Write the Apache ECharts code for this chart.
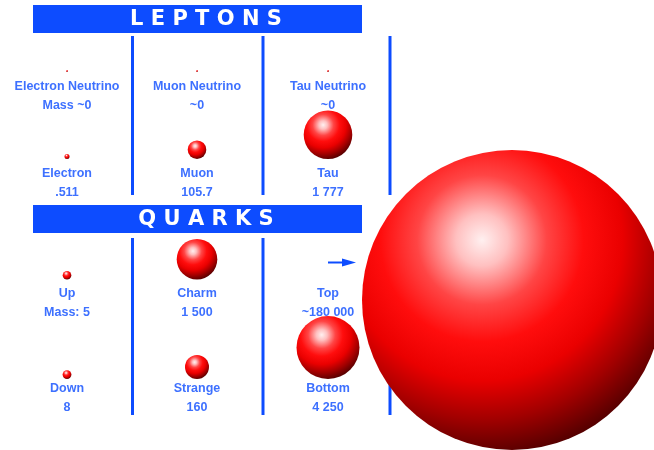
<!DOCTYPE html>
<html>
<head>
<meta charset="utf-8">
<script src="https://cdn.jsdelivr.net/npm/echarts@6/dist/echarts.min.js"></script>
<style>
  html, body { margin: 0; padding: 0; background: #fff; }
  #chart { width: 654px; height: 450px; }
</style>
</head>
<body>
<div id="chart"></div>
<script>
// particles, read row by row (3 per row): leptons then quarks
var particleNames = ['Electron Neutrino', 'Muon Neutrino', 'Tau Neutrino',
                     'Electron', 'Muon', 'Tau',
                     'Up', 'Charm', 'Top',
                     'Down', 'Strange', 'Bottom'];
var massLabels = ['Mass ~0', '~0', '~0',
                  '.511', '105.7', '1 777',
                  'Mass: 5', '1 500', '~180 000',
                  '8', '160', '4 250'];
var massMeV = [0, 0, 0,
               0.511, 105.7, 1777,
               5, 1500, 180000,
               8, 160, 4250];
var familyTitles = ['LEPTONS', 'QUARKS'];

// layout (pixels)
var COL_X = [67, 197, 328];
var ROW_SPHERE_BOTTOM = [72, 159, 279.5, 379];
var ROW_NAME_Y = [87, 173.5, 294, 389];
var LINE_GAP = 18.7;
var TOP_SPHERE_X = 512, TOP_SPHERE_BOTTOM = 450;
var BLUE = '#0d4cff';

// sphere radius scale, calibrated on the drawing (log-interpolated)
var radiusScale = [[0.511, 2.5], [5, 4.3], [8, 4.4], [105.7, 9.3], [160, 12],
                   [1500, 20.3], [1777, 24.3], [4250, 31.5], [180000, 150]];
function radiusOf(m) {
  if (m <= 0) return 0.9;
  for (var i = 1; i < radiusScale.length; i++) {
    var a = radiusScale[i - 1], b = radiusScale[i];
    if (m <= b[0]) {
      var t = Math.log(m / a[0]) / Math.log(b[0] / a[0]);
      return a[1] + t * (b[1] - a[1]);
    }
  }
  return radiusScale[radiusScale.length - 1][1];
}

var sphereData = [], labelData = [];
massMeV.forEach(function (m, i) {
  var col = i % 3, row = Math.floor(i / 3);
  var r = radiusOf(m);
  var x = COL_X[col], bottom = ROW_SPHERE_BOTTOM[row];
  if (particleNames[i] === 'Top') { x = TOP_SPHERE_X; bottom = TOP_SPHERE_BOTTOM; }
  var y = row === 0 ? bottom - 1 : bottom - r;
  sphereData.push({ name: particleNames[i], value: [x, y, r] });
  labelData.push({ name: particleNames[i], value: [COL_X[col], ROW_NAME_Y[row] + LINE_GAP / 2], mass: massLabels[i] });
});

var sphereColor = {
  type: 'radial', x: 0.4, y: 0.3, r: 0.72,
  colorStops: [
    { offset: 0, color: '#fff0f0' },
    { offset: 0.12, color: '#ffc0c0' },
    { offset: 0.3, color: '#ff4545' },
    { offset: 0.47, color: '#ff0d0d' },
    { offset: 0.65, color: '#ea0000' },
    { offset: 0.83, color: '#a20000' },
    { offset: 1, color: '#560000' }
  ]
};

var graphics = [];
[[5, 'LEPTONS'], [205, 'QUARKS']].forEach(function (b, k) {
  graphics.push({ type: 'rect', shape: { x: 33, y: b[0], width: 329, height: 28 }, style: { fill: BLUE }, z: 1 });
  graphics.push({ type: 'text', x: 206, y: b[0] + 15, z: 2,
    style: { text: familyTitles[k].split('').join(' '), fill: '#fff', font: 'bold 21px "DejaVu Sans"',
             align: 'center', verticalAlign: 'middle' } });
});
[[36, 195], [238, 415]].forEach(function (seg) {
  [132.5, 263, 390].forEach(function (x) {
    graphics.push({ type: 'line', shape: { x1: x, y1: seg[0], x2: x, y2: seg[1] },
                    style: { stroke: BLUE, lineWidth: 3 }, z: 0 });
  });
});
// arrow pointing to the top quark sphere
graphics.push({ type: 'line', shape: { x1: 328, y1: 262.5, x2: 346, y2: 262.5 }, style: { stroke: BLUE, lineWidth: 2 }, z: 1 });
graphics.push({ type: 'polygon', shape: { points: [[342, 258.5], [356, 262.5], [342, 266.5]] }, style: { fill: BLUE }, z: 1 });

var chart = echarts.init(document.getElementById('chart'));
chart.setOption({
  backgroundColor: '#fff',
  animation: false,
  grid: { left: 0, right: 0, top: 0, bottom: 0 },
  xAxis: { type: 'value', min: 0, max: 654, show: false },
  yAxis: { type: 'value', min: 0, max: 450, inverse: true, show: false },
  graphic: graphics,
  series: [
    {
      type: 'scatter',
      z: 3,
      data: sphereData,
      symbolSize: function (v) { return v[2] * 2; },
      itemStyle: { color: sphereColor, opacity: 1 },
      emphasis: { disabled: true }
    },
    {
      type: 'scatter',
      z: 5,
      symbolSize: 0,
      data: labelData,
      label: {
        show: true,
        position: 'inside',
        formatter: function (p) { return '{n|' + p.name + '}\n{v|' + p.data.mass + '}'; },
        rich: {
          n: { color: BLUE, fontFamily: 'Liberation Sans', fontWeight: 'bold', fontSize: 12.5, lineHeight: LINE_GAP, align: 'center' },
          v: { color: BLUE, fontFamily: 'Liberation Sans', fontWeight: 'bold', fontSize: 12.5, lineHeight: LINE_GAP, align: 'center' }
        }
      },
      emphasis: { disabled: true }
    }
  ]
});
</script>
</body>
</html>
